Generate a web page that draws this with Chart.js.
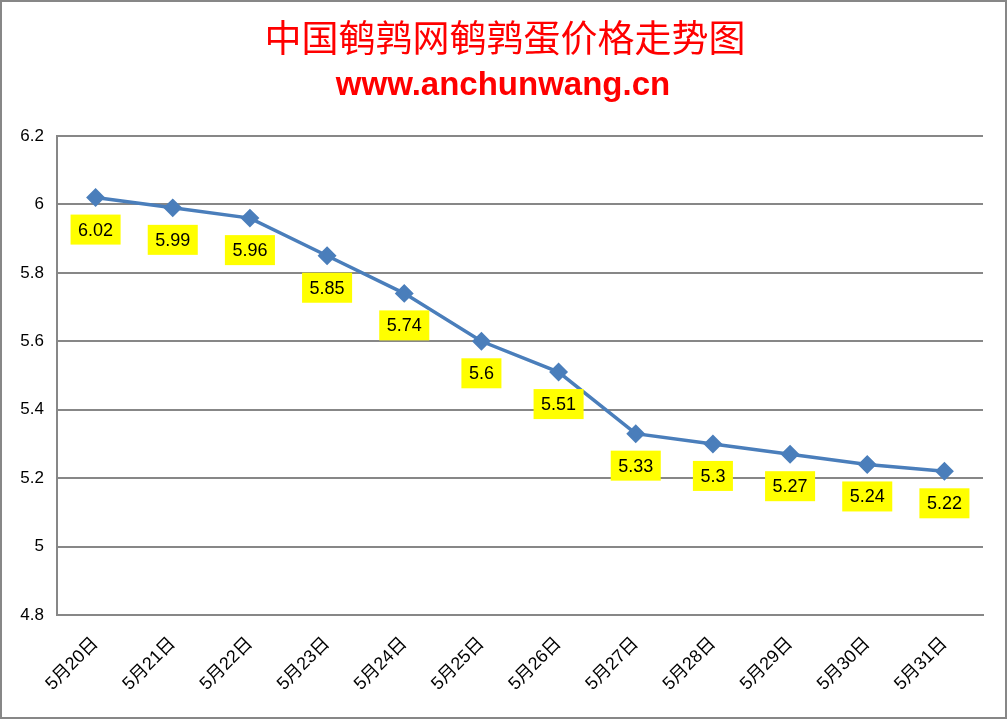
<!DOCTYPE html>
<html>
<head>
<meta charset="utf-8">
<script src="https://cdn.jsdelivr.net/npm/chart.js@4.4.0/dist/chart.umd.min.js"></script>
<style>
  html, body { margin: 0; padding: 0; background: #fff; }
  #wrap { width: 1007px; height: 719px; }
</style>
</head>
<body>
<div id="wrap"><canvas id="priceChart" width="1007" height="719"></canvas></div>
<script>
// chart data
const days = ['5月20日', '5月21日', '5月22日', '5月23日', '5月24日', '5月25日',
  '5月26日', '5月27日', '5月28日', '5月29日', '5月30日', '5月31日'];
const prices = [6.02, 5.99, 5.96, 5.85, 5.74, 5.6, 5.51, 5.33, 5.3, 5.27, 5.24, 5.22];
const yMin = 4.8;
const yMax = 6.2;
const yStep = 0.2;

const titleText = '中国鹌鹑网鹌鹑蛋价格走势图';
const subText = 'www.anchunwang.cn';

// white background, grey frame, two heading lines
const framePlugin = {
  id: 'frame',
  beforeDraw(chart) {
    const ctx = chart.ctx;
    ctx.save();
    ctx.fillStyle = '#fff';
    ctx.fillRect(0, 0, chart.width, chart.height);
    ctx.strokeStyle = '#878787';
    ctx.lineWidth = 2;
    ctx.strokeRect(1, 1, chart.width - 2, chart.height - 2);

    ctx.fillStyle = '#ff0000';
    ctx.textAlign = 'center';
    ctx.textBaseline = 'middle';
    ctx.font = '37px "Noto Sans CJK SC", sans-serif';
    ctx.fillText(titleText, 505, 38);
    ctx.font = 'bold 33px "Liberation Sans", Arial, sans-serif';
    ctx.fillText(subText, 503, 86);
    ctx.restore();
  }
};

// yellow value boxes under each point
const valueBoxes = {
  id: 'valueBoxes',
  afterDatasetsDraw(chart) {
    const ctx = chart.ctx;
    const meta = chart.getDatasetMeta(0);
    const data = chart.data.datasets[0].data;
    ctx.save();
    ctx.font = '18px "Liberation Sans", Arial, sans-serif';
    ctx.textAlign = 'center';
    ctx.textBaseline = 'middle';
    meta.data.forEach((pt, i) => {
      const txt = String(data[i]);
      const w = ctx.measureText(txt).width + 15;
      const h = 30;
      const cx = pt.x;
      const cy = pt.y + 32;
      ctx.fillStyle = '#ffff00';
      ctx.fillRect(cx - w / 2, cy - h / 2, w, h);
      ctx.fillStyle = '#000';
      ctx.fillText(txt, cx, cy + 1);
    });
    ctx.restore();
  }
};

new Chart(document.getElementById('priceChart'), {
  type: 'line',
  data: {
    labels: days,
    datasets: [{
      data: prices,
      borderColor: '#4a7ebb',
      backgroundColor: '#4a7ebb',
      borderWidth: 3.5,
      tension: 0,
      pointStyle: 'rectRot',
      pointRadius: 7,
      pointHoverRadius: 7,
      pointBackgroundColor: '#4a7ebb',
      pointBorderColor: '#4a7ebb'
    }]
  },
  options: {
    responsive: false,
    animation: false,
    devicePixelRatio: 1,
    layout: { padding: { left: 2, right: 24, top: 136, bottom: 0 } },
    plugins: {
      legend: { display: false },
      tooltip: { enabled: false },
      title: { display: false }
    },
    scales: {
      x: {
        offset: true,
        grid: { display: false, drawTicks: false },
        border: { display: true, color: '#878787', width: 2 },
        ticks: {
          color: '#000',
          minRotation: 45,
          maxRotation: 45,
          padding: 18,
          autoSkip: false,
          font: { family: '"Liberation Sans", "Noto Sans CJK SC", sans-serif', size: 18 }
        },
        afterFit(scale) { scale.height = 104; }
      },
      y: {
        min: yMin,
        max: yMax,
        grid: { color: '#878787', lineWidth: 2, drawTicks: false },
        border: { display: true, color: '#878787', width: 2 },
        ticks: {
          stepSize: yStep,
          color: '#000',
          padding: 13,
          font: { family: '"Liberation Sans", Arial, sans-serif', size: 17 },
          callback: v => String(+v.toFixed(1))
        },
        afterFit(scale) { scale.width = 55; }
      }
    }
  },
  plugins: [framePlugin, valueBoxes]
});
</script>
</body>
</html>
